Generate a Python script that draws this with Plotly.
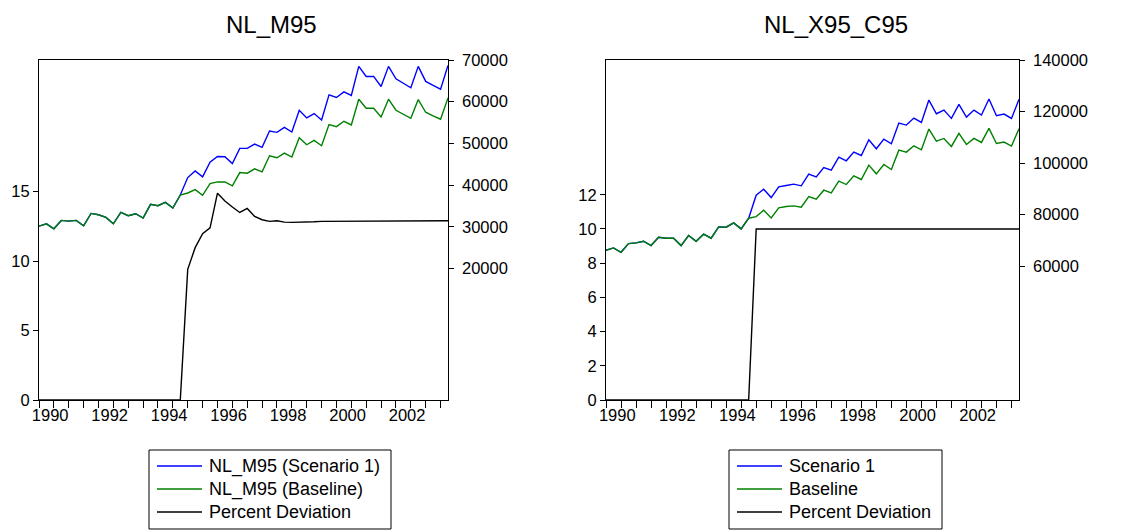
import plotly.graph_objects as go

# ---------------- data (quarterly, 1990Q1 - 2003Q4) ----------------
quarters = [1990 + i / 4 for i in range(56)]

m95_baseline = [30160, 30720, 29520, 31530, 31370, 31530, 30240, 33210, 32890, 32250,
                30720, 33450, 32650, 33130, 32090, 35380, 35060, 35860, 34500, 37630,
                38110, 38920, 37550, 40360, 40760, 40760, 39800, 43010, 42850, 43900,
                43170, 47030, 46550, 47670, 46710, 51370, 49680, 50720, 49440, 54500,
                54020, 55300, 54420, 60600, 58430, 58430, 56350, 60600, 57950, 56990,
                56020, 60520, 57470, 56590, 55790, 60920]
m95_scenario = [30160, 30720, 29520, 31530, 31370, 31530, 30240, 33210, 32890, 32250,
                30720, 33450, 32650, 33130, 32090, 35380, 35060, 35860, 34500, 37630,
                41800, 43410, 41970, 45500, 46870, 46790, 45180, 48800, 48800, 49840,
                49040, 52970, 52650, 53860, 52730, 57950, 56100, 57150, 55620, 61650,
                61000, 62370, 61490, 68470, 66060, 66060, 63650, 68470, 65500, 64460,
                63330, 68470, 64860, 63900, 63010, 68710]
m95_pctdev = [0] * 20 + [9.40, 10.96, 11.96, 12.39, 14.88, 14.31, 13.88, 13.49, 13.78, 13.21,
                         12.97, 12.85, 12.90, 12.80, 12.78, 12.78, 12.78, 12.82, 12.85, 12.85,
                         12.88, 12.90, 12.90, 12.90, 12.90, 12.90, 12.90, 12.90, 12.90, 12.90,
                         12.90, 12.90, 12.90, 12.90, 12.90, 12.90]

x95_baseline = [66130, 67040, 65350, 68720, 68980, 69630, 67940, 71190, 70800, 70800,
                67940, 71830, 69630, 72350, 70800, 75200, 75070, 76760, 74430, 78570,
                79210, 81670, 78690, 82580, 83100, 83360, 82840, 86990, 85950, 89450,
                88410, 92950, 91650, 95020, 93600, 99170, 95800, 99430, 97490, 105000,
                104230, 106690, 105140, 113170, 108500, 109540, 106430, 111490, 107210, 109540,
                107990, 113430, 107600, 108120, 106560, 113300]
x95_scenario = [66130, 67040, 65350, 68720, 68980, 69630, 67940, 71190, 70800, 70800,
                67940, 71830, 69630, 72350, 70800, 75200, 75070, 76760, 74430, 78570,
                87500, 89840, 86590, 90750, 91270, 91780, 91140, 95670, 94630, 98260,
                97230, 102280, 100860, 104230, 102930, 109020, 105520, 109280, 107470, 115500,
                114730, 117450, 115760, 124450, 119130, 120560, 117320, 122760, 117840, 120560,
                118620, 124840, 118360, 119000, 117320, 124710]
x95_pctdev = [0] * 20 + [10] * 36

year_labels = ["1990", "1992", "1994", "1996", "1998", "2000", "2002"]
left_pct_ticks_1 = [0, 5, 10, 15]
right_lvl_ticks_1 = [20000, 30000, 40000, 50000, 60000, 70000]
left_pct_ticks_2 = [0, 2, 4, 6, 8, 10, 12]
right_lvl_ticks_2 = [60000, 80000, 100000, 120000, 140000]

legend_names_1 = ["NL_M95 (Scenario 1)", "NL_M95 (Baseline)", "Percent Deviation"]
legend_names_2 = ["Scenario 1", "Baseline", "Percent Deviation"]

# ---------------- figure ----------------
W, H = 1144, 532
BLUE, GREEN, BLACK = "#0000FF", "#008000", "#000000"
COLORS = [BLUE, GREEN, BLACK]
FONT = "Liberation Sans, Arial, sans-serif"
LW = 1.4

fig = go.Figure()

def px_x(p):
    return p / W

def px_y(p):
    return 1 - p / H

# left panel
fig.add_trace(go.Scatter(x=quarters, y=m95_scenario, mode="lines", name=legend_names_1[0],
                         line=dict(color=BLUE, width=LW), xaxis="x", yaxis="y2"))
fig.add_trace(go.Scatter(x=quarters, y=m95_baseline, mode="lines", name=legend_names_1[1],
                         line=dict(color=GREEN, width=LW), xaxis="x", yaxis="y2"))
fig.add_trace(go.Scatter(x=quarters, y=m95_pctdev, mode="lines", name=legend_names_1[2],
                         line=dict(color=BLACK, width=LW), xaxis="x", yaxis="y"))
# right panel
fig.add_trace(go.Scatter(x=quarters, y=x95_scenario, mode="lines", name=legend_names_2[0],
                         line=dict(color=BLUE, width=LW), xaxis="x2", yaxis="y4"))
fig.add_trace(go.Scatter(x=quarters, y=x95_baseline, mode="lines", name=legend_names_2[1],
                         line=dict(color=GREEN, width=LW), xaxis="x2", yaxis="y4"))
fig.add_trace(go.Scatter(x=quarters, y=x95_pctdev, mode="lines", name=legend_names_2[2],
                         line=dict(color=BLACK, width=LW), xaxis="x2", yaxis="y3"))

ydom = [px_y(400), px_y(60)]
tickfont = dict(family=FONT, size=16.5, color="black")
label_pos = [int(y) + 0.375 for y in year_labels]

def xaxis(domain, anchor):
    return dict(domain=domain, anchor=anchor, range=[1990, 2003.75], automargin=False,
                tickmode="array", tickvals=label_pos, ticktext=year_labels,
                ticks="", showgrid=False, zeroline=False,
                showline=True, linecolor="black", linewidth=1.2, mirror=True,
                tickfont=tickfont,
                minor=dict(tickmode="linear", tick0=1990, dtick=0.5, ticks="outside",
                           ticklen=7, tickcolor="black", tickwidth=1, showgrid=False))

def yleft(domain, anchor, rng, tv):
    return dict(domain=domain, anchor=anchor, range=rng, tickmode="array", tickvals=tv,
                ticktext=[str(v) for v in tv], automargin=False,
                ticks="outside", ticklen=5, tickcolor="black", showgrid=False, zeroline=False,
                showline=True, linecolor="black", linewidth=1.2, tickfont=tickfont)

def yright(anchor, overlay, rng, tv):
    return dict(overlaying=overlay, anchor=anchor, side="right", range=rng, tickmode="array",
                tickvals=tv, ticktext=["\u00a0" + str(v) for v in tv], automargin=False,
                ticks="outside", ticklen=5, tickcolor="black", showgrid=False,
                zeroline=False, showline=True, linecolor="black", linewidth=1.2,
                tickfont=tickfont)

# legend boxes (drawn as shapes + text so the row spacing matches the reference)
shapes = []
annotations = []
row_y = [466, 489, 512]
for (bx0, bx1, names) in [(149, 391, legend_names_1), (729, 942, legend_names_2)]:
    shapes.append(dict(type="rect", xref="paper", yref="paper",
                       x0=px_x(bx0), x1=px_x(bx1), y0=px_y(529), y1=px_y(450),
                       line=dict(color="black", width=1), fillcolor="white"))
    for name, color, ry in zip(names, COLORS, row_y):
        shapes.append(dict(type="line", xref="paper", yref="paper",
                           x0=px_x(bx0 + 8), x1=px_x(bx0 + 53), y0=px_y(ry), y1=px_y(ry),
                           line=dict(color=color, width=1.3)))
        annotations.append(dict(text=name, x=px_x(bx0 + 58), y=px_y(ry), xref="paper",
                                yref="paper", xanchor="left", yanchor="middle",
                                showarrow=False,
                                font=dict(family=FONT, size=18, color="black")))

annotations += [
    dict(text="NL_M95", x=px_x(271), y=px_y(24), xref="paper", yref="paper",
         xanchor="center", yanchor="middle", showarrow=False,
         font=dict(family=FONT, size=24, color="black")),
    dict(text="NL_X95_C95", x=px_x(836), y=px_y(24), xref="paper", yref="paper",
         xanchor="center", yanchor="middle", showarrow=False,
         font=dict(family=FONT, size=24, color="black")),
]

fig.update_layout(
    width=W, height=H, margin=dict(l=0, r=0, t=0, b=0, autoexpand=False),
    paper_bgcolor="white", plot_bgcolor="white",
    font=dict(family=FONT, color="black"),
    xaxis=xaxis([px_x(39), px_x(448)], "y"),
    yaxis=yleft(ydom, "x", [0, 24.46], left_pct_ticks_1),
    yaxis2=yright("x", "y", [-11535, 70000], right_lvl_ticks_1),
    xaxis2=xaxis([px_x(606), px_x(1019)], "y3"),
    yaxis3=yleft(ydom, "x2", [0, 19.88], left_pct_ticks_2),
    yaxis4=yright("x2", "y3", [7980, 140000], right_lvl_ticks_2),
    shapes=shapes,
    annotations=annotations,
    showlegend=False,
)

fig.write_html("out.html", config={"displayModeBar": False},
               post_script="document.body.style.margin='0';document.body.style.overflow='hidden';")
